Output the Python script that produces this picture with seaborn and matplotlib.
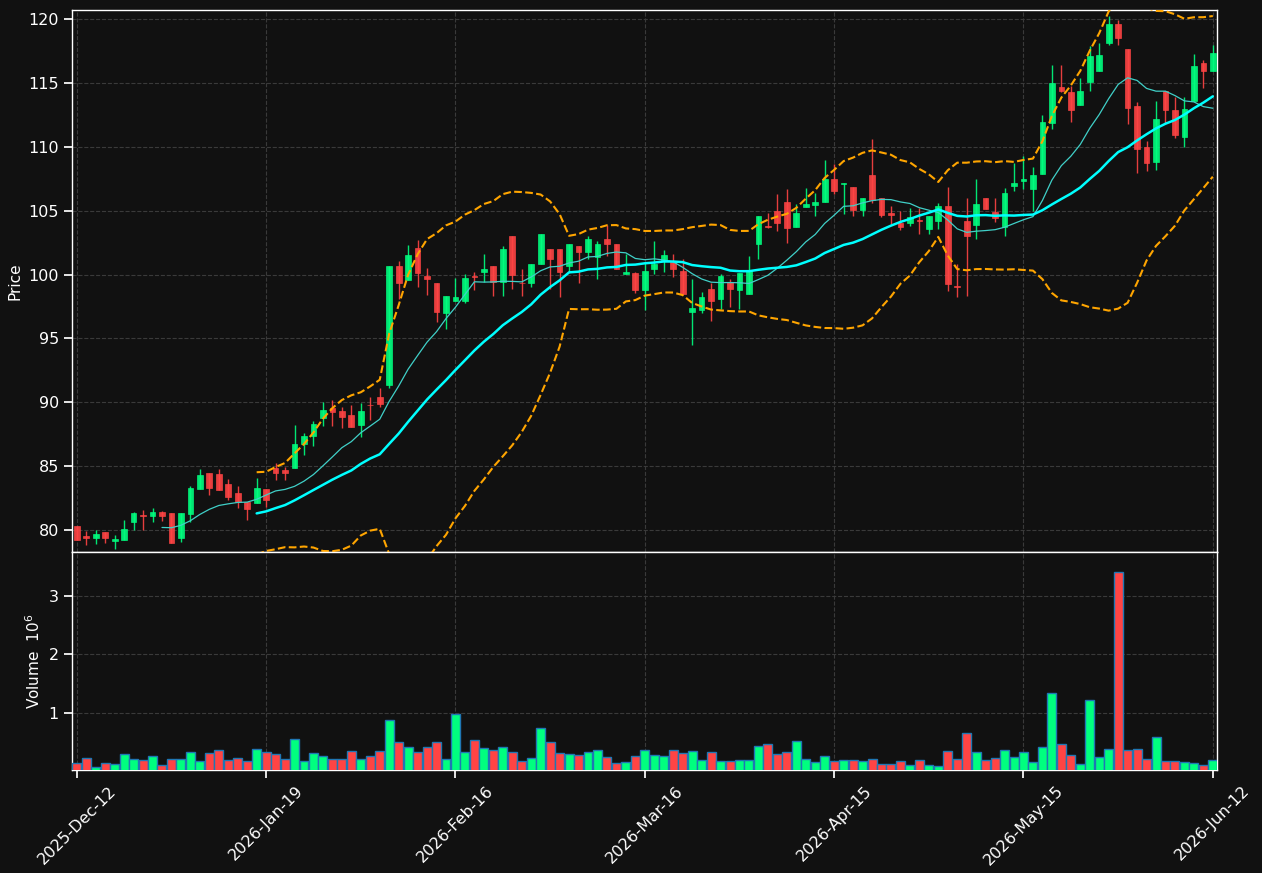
import numpy as np
import pandas as pd
import seaborn as sns
import matplotlib
matplotlib.use("Agg")
import matplotlib.pyplot as plt

# daily OHLC (121 sessions)
opens = [80.3, 79.5, 79.4, 79.85, 79.17, 79.2, 80.6, 81.2, 81.1, 81.4,
         81.35, 79.35, 81.25, 83.2, 84.5, 84.35, 83.6, 82.9, 82.2, 82.1,
         83.2, 84.85, 84.7, 84.85, 86.7, 87.35, 88.75, 89.55, 89.3, 89.0,
         88.2, 89.8, 90.4, 91.35, 100.7, 99.6, 102.05, 99.85, 99.3, 97.0,
         97.9, 97.9, 99.85, 100.2, 100.7, 99.45, 103.0, 99.35, 99.3, 100.85,
         102.0, 102.0, 100.65, 102.25, 101.8, 101.35, 102.8, 102.4, 100.05, 100.1,
         98.75, 100.4, 101.1, 101.0, 100.25, 97.05, 97.25, 98.9, 98.05, 99.45,
         98.75, 98.45, 102.35, 103.8, 105.0, 105.65, 103.7, 105.25, 105.45, 105.65,
         107.5, 107.05, 106.85, 105.05, 107.8, 106.0, 104.85, 104.05, 104.0, 104.3,
         103.6, 104.2, 105.4, 99.1, 104.2, 103.85, 105.95, 104.9, 103.7, 106.9,
         107.3, 106.7, 107.9, 111.85, 114.7, 114.3, 113.3, 115.05, 115.95, 118.15,
         119.6, 117.65, 113.2, 109.95, 108.8, 114.4, 112.85, 110.75, 113.6, 116.55,
         115.9]
highs = [80.35, 79.9, 80.0, 79.85, 79.6, 80.8, 81.4, 81.55, 81.7, 81.5,
         81.35, 81.35, 83.45, 84.8, 84.5, 84.8, 84.0, 83.45, 82.2, 84.05,
         83.2, 85.25, 84.9, 88.2, 87.6, 88.55, 90.0, 90.15, 89.65, 89.75,
         89.95, 90.45, 91.15, 100.7, 101.05, 102.3, 102.7, 100.5, 99.3, 98.3,
         99.7, 100.05, 100.2, 101.6, 100.7, 102.25, 103.0, 100.45, 100.85, 103.2,
         102.0, 102.0, 102.4, 102.25, 103.05, 102.65, 103.85, 102.4, 101.6, 100.2,
         101.0, 102.65, 101.9, 101.6, 101.2, 99.65, 98.65, 99.35, 100.05, 99.65,
         100.1, 101.45, 104.6, 104.85, 106.3, 106.7, 105.5, 106.75, 106.35, 108.95,
         108.65, 107.2, 106.85, 106.0, 110.6, 106.0, 105.4, 105.0, 105.2, 105.2,
         104.6, 105.6, 106.85, 100.8, 106.0, 107.5, 105.95, 106.0, 106.75, 108.75,
         109.3, 108.4, 112.5, 116.4, 116.4, 114.75, 115.4, 117.9, 118.1, 120.2,
         119.9, 117.65, 113.5, 110.45, 113.55, 114.4, 113.9, 113.9, 117.25, 116.8,
         118.0]
lows = [79.2, 78.8, 78.9, 79.0, 78.55, 79.2, 80.0, 80.0, 80.6, 80.7,
        79.0, 79.1, 80.6, 83.2, 82.75, 83.1, 82.35, 81.7, 80.8, 82.1,
        81.8, 83.9, 83.9, 84.85, 85.85, 86.6, 88.15, 88.15, 88.0, 88.05,
        87.3, 88.6, 89.65, 91.15, 98.1, 99.6, 99.05, 98.4, 96.25, 95.7,
        97.9, 97.8, 98.8, 99.45, 98.35, 98.3, 98.85, 98.35, 99.05, 100.85,
        98.9, 98.2, 100.2, 99.3, 101.2, 99.65, 101.45, 100.4, 100.05, 98.55,
        97.2, 100.05, 100.2, 99.8, 98.5, 94.5, 96.95, 96.35, 97.3, 97.45,
        97.3, 98.45, 101.2, 103.65, 103.4, 102.5, 103.7, 105.25, 104.55, 105.65,
        106.3, 104.75, 104.6, 104.55, 105.6, 104.5, 103.95, 103.45, 103.8, 103.2,
        103.2, 103.6, 98.7, 98.2, 98.3, 102.8, 105.15, 104.1, 103.0, 106.5,
        106.7, 105.0, 107.9, 111.4, 114.3, 111.9, 113.3, 114.35, 115.95, 117.95,
        117.95, 111.75, 107.95, 108.1, 108.15, 111.85, 110.7, 109.95, 113.6, 114.6,
        115.9]
closes = [79.2, 79.4, 79.7, 79.4, 79.3, 80.1, 81.3, 81.1, 81.4, 81.1,
          79.0, 81.3, 83.3, 84.3, 83.3, 83.1, 82.6, 82.2, 81.65, 83.3,
          82.35, 84.5, 84.5, 86.7, 87.35, 88.3, 89.4, 89.2, 88.85, 88.05,
          89.3, 89.75, 89.85, 100.7, 99.3, 101.5, 100.1, 99.65, 97.05, 98.3,
          98.2, 99.7, 99.8, 100.45, 99.45, 102.0, 100.0, 99.3, 100.85, 103.2,
          101.2, 100.2, 102.4, 101.8, 102.8, 102.4, 102.35, 100.4, 100.2, 98.8,
          100.25, 100.85, 101.5, 100.4, 98.5, 97.4, 98.2, 97.9, 99.85, 98.85,
          100.1, 100.25, 104.6, 103.75, 104.05, 103.65, 104.85, 105.55, 105.7, 107.5,
          106.5, 107.2, 105.05, 106.0, 105.8, 104.65, 104.65, 103.75, 104.5, 104.2,
          104.55, 105.35, 99.25, 99.05, 103.05, 105.55, 105.15, 104.45, 106.4, 107.15,
          107.45, 107.8, 111.9, 115.0, 114.35, 112.9, 114.4, 117.1, 117.15, 119.6,
          118.55, 113.0, 109.85, 108.75, 112.2, 112.9, 110.95, 112.95, 116.35, 115.9,
          117.3]
# volume in millions
volume_m = [0.138, 0.224, 0.069, 0.138, 0.12, 0.293, 0.207, 0.19, 0.259, 0.103,
            0.207, 0.207, 0.328, 0.172, 0.31, 0.362, 0.19, 0.224, 0.172, 0.379,
            0.328, 0.293, 0.207, 0.552, 0.172, 0.31, 0.259, 0.207, 0.207, 0.345,
            0.207, 0.259, 0.345, 0.879, 0.5, 0.414, 0.328, 0.414, 0.5, 0.207,
            0.983, 0.328, 0.534, 0.397, 0.362, 0.414, 0.328, 0.172, 0.224, 0.741,
            0.5, 0.31, 0.293, 0.276, 0.328, 0.362, 0.241, 0.138, 0.155, 0.259,
            0.362, 0.276, 0.259, 0.362, 0.31, 0.345, 0.19, 0.328, 0.172, 0.172,
            0.19, 0.19, 0.431, 0.466, 0.293, 0.328, 0.517, 0.207, 0.155, 0.259,
            0.172, 0.19, 0.19, 0.172, 0.207, 0.12, 0.12, 0.172, 0.103, 0.19,
            0.103, 0.086, 0.345, 0.207, 0.655, 0.328, 0.19, 0.224, 0.362, 0.241,
            0.328, 0.155, 0.414, 1.345, 0.466, 0.276, 0.12, 1.224, 0.241, 0.379,
            3.414, 0.362, 0.379, 0.207, 0.586, 0.172, 0.172, 0.155, 0.138, 0.103,
            0.19]
tick_pos = [0, 20, 40, 60, 80, 100, 120]
tick_labels = ["2025-Dec-12", "2026-Jan-19", "2026-Feb-16", "2026-Mar-16",
               "2026-Apr-15", "2026-May-15", "2026-Jun-12"]

up_color = "#00ff7f"
down_color = "#ff4444"

df = pd.DataFrame({"open": opens, "high": highs, "low": lows,
                   "close": closes, "volume": volume_m})
df["idx"] = np.arange(len(df))
df["ma10"] = df["close"].rolling(10).mean()
df["ma20"] = df["close"].rolling(20).mean()
std20 = df["close"].rolling(20).std(ddof=0)
df["bb_up"] = df["ma20"] + 2 * std20
df["bb_lo"] = df["ma20"] - 2 * std20

sns.set_theme(style="dark", rc={
    "figure.facecolor": "#111111",
    "axes.facecolor": "#111111",
    "axes.edgecolor": "white",
    "axes.labelcolor": "white",
    "text.color": "white",
    "xtick.color": "white",
    "ytick.color": "white",
    "axes.grid": True,
    "grid.color": "#3a3a3a",
    "grid.linestyle": "--",
    "grid.linewidth": 0.8,
    "xtick.bottom": True,
    "ytick.left": True,
    "font.size": 11,
    "axes.labelsize": 11,
    "xtick.labelsize": 11.5,
    "ytick.labelsize": 11.5,
})

fig = plt.figure(figsize=(12.62, 8.73), dpi=100)
ax = fig.add_axes([0.0571, 0.3677, 0.9073, 0.6208])
axv = fig.add_axes([0.0571, 0.1180, 0.9073, 0.2497], sharex=ax)

colors = [up_color if c >= o else down_color for o, c in zip(df["open"], df["close"])]

# candles
ax.vlines(df["idx"], df["low"], df["high"], colors=colors, linewidth=1, alpha=0.9, zorder=2)
body_lo = np.minimum(df["open"], df["close"])
body_h = np.maximum((df["close"] - df["open"]).abs(), 0.06)
ax.bar(df["idx"], body_h, bottom=body_lo, width=0.6, color=colors,
       edgecolor=colors, linewidth=0.5, alpha=0.9, zorder=3)

# moving averages and bollinger bands
sns.lineplot(data=df, x="idx", y="ma10", ax=ax, color="#40d0c8", linewidth=0.9, zorder=4)
sns.lineplot(data=df, x="idx", y="ma20", ax=ax, color="#00ffff", linewidth=1.8, zorder=4)
sns.lineplot(data=df, x="idx", y="bb_up", ax=ax, color="#ffa500", linewidth=1.5,
             linestyle="--", zorder=4)
sns.lineplot(data=df, x="idx", y="bb_lo", ax=ax, color="#ffa500", linewidth=1.5,
             linestyle="--", zorder=4)

ax.set_ylim(78.28, 120.7)
ax.set_xlim(-0.5, 120.45)
ax.set_ylabel("Price")
ax.set_xlabel("")
ax.set_xticks(tick_pos)
ax.tick_params(axis="x", labelbottom=False)

# volume
axv.bar(df["idx"], df["volume"], width=0.95, color=colors,
        edgecolor="#1f77b4", linewidth=1, zorder=3)
axv.set_ylim(0.3 * min(volume_m), 1.1 * max(volume_m))
axv.set_yticks([1, 2, 3])
axv.set_ylabel("Volume  $10^6$")
axv.set_xticks(tick_pos)
axv.set_xticklabels(tick_labels, rotation=45)
axv.set_xlim(-0.5, 120.45)

for a in (ax, axv):
    for s in a.spines.values():
        s.set_color("white")
        s.set_linewidth(1)

fig.savefig("out.png", dpi=100, facecolor=fig.get_facecolor())
